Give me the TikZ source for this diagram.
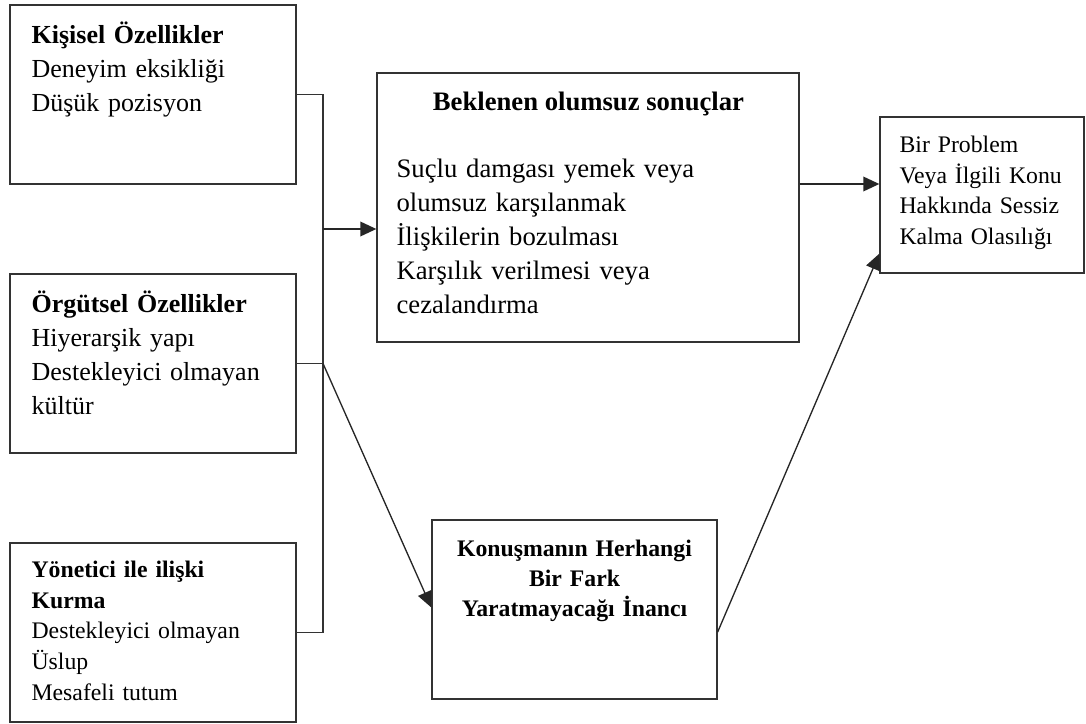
\documentclass[tikz,border=0pt]{standalone}
\usepackage{fontspec}
\setmainfont{Liberation Serif}
\usetikzlibrary{calc,arrows.meta}

\begin{document}
\begin{tikzpicture}[x=0.75pt,y=-0.75pt,
  kutu/.style={draw=black!80,line width=1pt,inner sep=0pt},
  ok/.style={-{Triangle[length=12pt,width=11pt]},draw=black!85,line width=1pt},
  hat/.style={draw=black!80,line width=1pt},
  metin/.style={inner sep=0pt,text width=#1,align=left,anchor=base west},
  metin/.default=240pt,
  buyuk/.style={font=\fontsize{19.5}{25.5}\selectfont},
  kucuk/.style={font=\fontsize{17.8}{23}\selectfont}]
  \useasboundingbox (0,0) rectangle (1086,724);

  % sol kutular
  \node[kutu,minimum width=214.5pt,minimum height=134.25pt] (kisisel) at (153,94.5) {};
  \node[kutu,minimum width=214.5pt,minimum height=134.25pt] (orgutsel) at (153,363.5) {};
  \node[kutu,minimum width=214.5pt,minimum height=134.25pt] (yonetici) at (153,632.5) {};

  \node[metin,buyuk] (kisiselT) at ($ (kisisel.north west) + (22,39) $)
    {\textbf{Kişisel Özellikler}\\Deneyim eksikliği\\Düşük pozisyon};
  \node[metin,buyuk] (orgutselT) at ($ (orgutsel.north west) + (22,39) $)
    {\textbf{Örgütsel Özellikler}\\Hiyerarşik yapı\\Destekleyici olmayan\\kültür};
  \node[metin,kucuk] (yoneticiT) at ($ (yonetici.north west) + (22,35) $)
    {\textbf{Yönetici ile ilişki}\\\textbf{Kurma}\\Destekleyici olmayan\\Üslup\\Mesafeli tutum};

  % orta ve sag kutular
  \node[kutu,minimum width=316.5pt,minimum height=201.75pt] (sonuc) at (588,207.5) {};
  \node[kutu,minimum width=213.75pt,minimum height=134.25pt] (inanc) at (574.5,609.5) {};
  \node[kutu,minimum width=153pt,minimum height=117pt] (sessiz) at (982,195) {};

  \node[inner sep=0pt,anchor=base,font=\fontsize{20}{25.5}\selectfont\bfseries] (sonucB)
    at ($ (sonuc.north) + (0.5,38) $) {Beklenen olumsuz sonuçlar};
  \node[metin,font=\fontsize{20}{25.5}\selectfont] (sonucT) at ($ (sonuc.north west) + (20,105) $)
    {Suçlu damgası yemek veya\\olumsuz karşılanmak\\İlişkilerin bozulması\\Karşılık verilmesi veya\\cezalandırma};
  \node[inner sep=0pt,text width=200pt,align=center,anchor=base,font=\fontsize{17.8}{22.5}\selectfont\bfseries] (inancT)
    at ($ (inanc.north) + (0,37) $) {Konuşmanın Herhangi\\Bir Fark\\Yaratmayacağı İnancı};
  \node[metin=140pt,font=\fontsize{17.8}{23}\selectfont] (sessizT) at ($ (sessiz.north west) + (20,36) $)
    {Bir Problem\\Veya İlgili Konu\\Hakkında Sessiz\\Kalma Olasılığı};

  % baglantilar
  \coordinate (bus) at (323,229);
  \draw[hat] (kisisel.east) -- (kisisel.east -| bus) -- (yonetici.east -| bus) -- (yonetici.east);
  \draw[hat] (orgutsel.east) -- (orgutsel.east -| bus);
  \draw[ok] (bus) -- (bus -| sonuc.west);

  \coordinate (sonucSag) at ($ (sonuc.east) + (0,-23.5) $);
  \draw[ok] (sonucSag) -- (sonucSag -| sessiz.west);

  \draw[ok] (orgutsel.east -| bus) -- ($ (inanc.west) + (0,-2) $);
  \draw[ok] ($ (inanc.east) + (0,22.5) $) -- ($ (sessiz.south west) + (0,-20) $);
\end{tikzpicture}
\end{document}
